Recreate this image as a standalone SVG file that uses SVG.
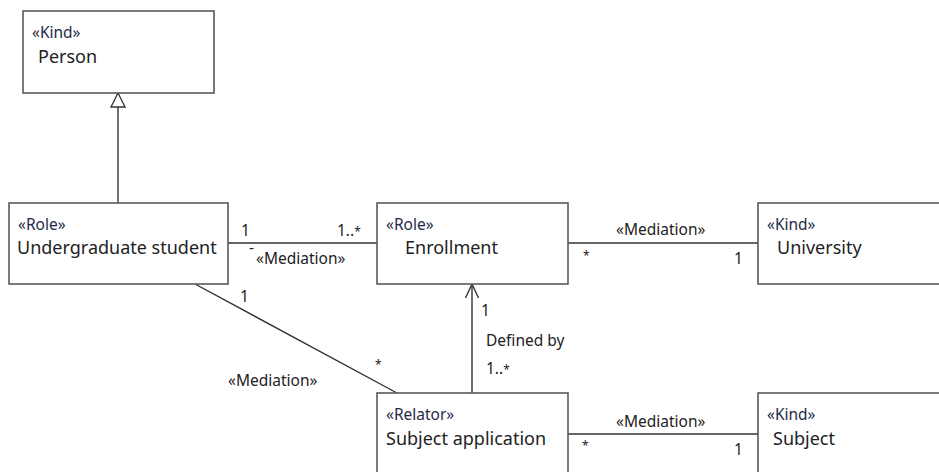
<svg xmlns="http://www.w3.org/2000/svg" width="939" height="472" viewBox="0 0 939 472">
  <style>
    .box { fill: #ffffff; stroke: #5a5a5a; stroke-width: 1.6; }
    .edge { fill: none; stroke: #333333; stroke-width: 1.4; }
    text { font-family: "Noto Sans", "Open Sans", sans-serif; fill: #222222; }
    .st { font-size: 15.5px; fill: #1f2a48; }
    .nm { font-size: 18px; }
    .lbl { font-size: 15.5px; }
    .star { font-size: 12px; }
  </style>
  <defs>
    <marker id="gen" viewBox="0 0 16 16" refX="15" refY="8" markerWidth="16" markerHeight="16" markerUnits="userSpaceOnUse" orient="auto">
      <path d="M1,1 L15,8 L1,15 Z" fill="#ffffff" stroke="#333333" stroke-width="1.3"/>
    </marker>
    <marker id="open" viewBox="0 0 16 16" refX="15" refY="8" markerWidth="16" markerHeight="16" markerUnits="userSpaceOnUse" orient="auto">
      <path d="M1,1.5 L15,8 L1,14.5" fill="none" stroke="#333333" stroke-width="1.4"/>
    </marker>
  </defs>

  <rect width="939" height="472" fill="#ffffff"/>

  <g id="connectors">
    <line class="edge" x1="118" y1="203" x2="118" y2="93" marker-end="url(#gen)"/>
    <line class="edge" x1="228" y1="243" x2="377" y2="243"/>
    <line class="edge" x1="568" y1="243" x2="758" y2="243"/>
    <line class="edge" x1="195" y1="284" x2="397" y2="393"/>
    <line class="edge" x1="472" y1="393" x2="472" y2="284" marker-end="url(#open)"/>
    <line class="edge" x1="568" y1="434" x2="758" y2="434"/>

    <text class="lbl" x="241" y="236">1</text>
    <text class="lbl" x="337" y="236">1..<tspan class="star">*</tspan></text>
    <text class="lbl" x="249" y="253">-</text>
    <text class="lbl" x="256" y="264">«Mediation»</text>

    <text class="lbl" x="616" y="235">«Mediation»</text>
    <text class="star" x="583" y="260">*</text>
    <text class="lbl" x="734" y="264">1</text>

    <text class="lbl" x="240" y="302">1</text>
    <text class="star" x="375" y="369">*</text>
    <text class="lbl" x="228" y="386">«Mediation»</text>

    <text class="lbl" x="481" y="316">1</text>
    <text class="lbl" x="486" y="346">Defined by</text>
    <text class="lbl" x="486" y="374">1..<tspan class="star">*</tspan></text>

    <text class="lbl" x="616" y="427">«Mediation»</text>
    <text class="star" x="582" y="450">*</text>
    <text class="lbl" x="734" y="455">1</text>
  </g>

  <g id="person">
    <rect class="box" x="23" y="11" width="191" height="82"/>
    <text class="st" x="32" y="38">«Kind»</text>
    <text class="nm" x="38" y="63">Person</text>
  </g>

  <g id="undergraduate-student">
    <rect class="box" x="9" y="203" width="219" height="81"/>
    <text class="st" x="18" y="230">«Role»</text>
    <text class="nm" x="17" y="254">Undergraduate student</text>
  </g>

  <g id="enrollment">
    <rect class="box" x="377" y="203" width="191" height="81"/>
    <text class="st" x="386" y="230">«Role»</text>
    <text class="nm" x="405" y="254">Enrollment</text>
  </g>

  <g id="university">
    <rect class="box" x="758" y="203" width="200" height="81"/>
    <text class="st" x="767" y="230">«Kind»</text>
    <text class="nm" x="777" y="254">University</text>
  </g>

  <g id="subject-application">
    <rect class="box" x="377" y="393" width="191" height="100"/>
    <text class="st" x="386" y="420">«Relator»</text>
    <text class="nm" x="386" y="445">Subject application</text>
  </g>

  <g id="subject">
    <rect class="box" x="758" y="393" width="200" height="100"/>
    <text class="st" x="767" y="420">«Kind»</text>
    <text class="nm" x="773" y="445">Subject</text>
  </g>
</svg>
